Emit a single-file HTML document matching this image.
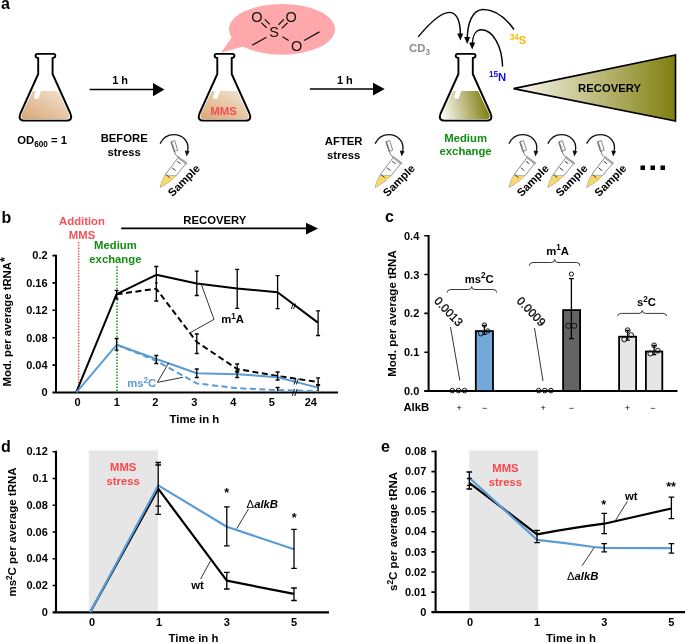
<!DOCTYPE html>
<html><head><meta charset="utf-8">
<style>
html,body{margin:0;padding:0;background:#fff;width:685px;height:643px;overflow:hidden}
svg{display:block;will-change:transform}
svg{font-family:"Liberation Sans",sans-serif;font-weight:bold}
text{font-family:"Liberation Sans",sans-serif}
</style></head>
<body>
<svg width="685" height="643" viewBox="0 0 685 643">
<defs>
  <linearGradient id="tan" x1="0" y1="1" x2="1" y2="0">
    <stop offset="0" stop-color="#d9a674"/>
    <stop offset="1" stop-color="#f4e5d4"/>
  </linearGradient>
  <linearGradient id="olive" x1="0" y1="1" x2="1" y2="0.88">
    <stop offset="0" stop-color="#ffffff"/>
    <stop offset="1" stop-color="#807f0f"/>
  </linearGradient>
  <linearGradient id="oliveTri" x1="0" y1="0" x2="1" y2="0">
    <stop offset="0" stop-color="#fbfaf0"/>
    <stop offset="1" stop-color="#807f0f"/>
  </linearGradient>
  <g id="flaskOutline">
    <path d="M -7.2,21 L -7.2,5 Q -9.9,4.6 -9.9,2.7 Q -9.9,0.9 -8,0.9 L 8,0.9 Q 9.9,0.9 9.9,2.7 Q 9.9,4.6 7.2,5 L 7.2,21 L 25,60.5 Q 27.9,67.5 21,67.6 L -21,67.6 Q -27.9,67.5 -25,60.5 Z" fill="none" stroke="#000" stroke-width="1.9" stroke-linejoin="round"/>
  </g>
  <path id="liquid" d="M -12.6,37.9 L 12.6,37.9 L 23.4,60.8 Q 25.9,66.2 20.2,66.3 L -20.2,66.3 Q -25.9,66.2 -23.4,60.8 Z"/>
  <path id="hl" d="M -9.6,37.4 L -4.2,37.4 L -6.5,44.2 Q -7.2,46.1 -9,46.1 Q -11.1,45.9 -11.5,43.9 Z" fill="#fff"/>
  <g id="tube">
    <path d="M 160.1,143.6 C 163,137.5 167.5,134.6 173.9,134.6 C 182,134.6 188.1,140.5 188,147.9 L 187.6,151.5" fill="none" stroke="#111" stroke-width="1.3"/>
    <path d="M 184.8,150.6 L 186.6,156.6 L 189.6,151.2 Z" fill="#111"/>
    <g transform="translate(174.3,146) rotate(-18)">
      <rect x="-2" y="-5" width="4" height="10" fill="#fff" stroke="#666" stroke-width="0.7"/>
      <path d="M -1.4,-5 V 5" stroke="#555" stroke-width="1.5" stroke-dasharray="0.7,0.5"/>
    </g>
    <path d="M 174.4,151.2 Q 175,155 177.8,156.8" fill="none" stroke="#555" stroke-width="0.8"/>
    <path d="M 177.7,158.2 L 171.1,166.9 L 165.8,174 Q 162.2,179.5 160.2,187.3 Q 166.5,184 171.3,180 L 176.1,175.6 L 185.6,164" fill="#fff" stroke="#444" stroke-width="0.6"/>
    <path d="M 165.3,175.3 L 176.4,175.6 L 171.3,180 Q 166.5,184 160.2,187.3 Q 162.2,179.5 165.3,175.3 Z" fill="#f8d86a"/>
    <path d="M 165.3,175.3 L 176.4,175.6" stroke="#999" stroke-width="0.6"/>
    <path d="M 177.9,157 L 186.9,163.8" stroke="#c4c4c4" stroke-width="2.3"/>
    <path d="M 177.9,157 L 186.9,163.8" stroke="#6a6a6a" stroke-width="2.3" stroke-dasharray="0.5,1"/>
    <path d="M 177.2,161.3 L 180.6,163.7 M 171.9,167.7 L 175.6,170.6 M 166.3,174.8 L 169.7,177.7" stroke="#222" stroke-width="0.9"/>
    <text transform="translate(172.6,197.2) rotate(-45)" font-size="11.2" fill="#000">Sample</text>
  </g>
</defs>

<!-- ============ PANEL A ============ -->
<text x="1" y="8.8" font-size="16" fill="#000">a</text>

<!-- speech bubble -->
<path d="M 221,52.8 L 232.3,36.5 L 243,46.5 Z" fill="#fea8ab"/>
<ellipse cx="282" cy="29.3" rx="53" ry="25.4" fill="#fea8ab"/>
<!-- MMS molecule -->
<g font-size="14.5" fill="#111">
  <text x="256.8" y="21.7" text-anchor="middle" style="font-weight:normal">O</text>
  <text x="291.2" y="21.7" text-anchor="middle" style="font-weight:normal">O</text>
  <text x="274.1" y="37.4" text-anchor="middle" style="font-weight:normal">S</text>
  <text x="296.6" y="50.7" text-anchor="middle" style="font-weight:normal">O</text>
</g>
<g stroke="#111" stroke-width="1.25" fill="none">
  <path d="M 252.2,45.2 L 266.4,37.2"/>
  <path d="M 304.1,40.5 L 319.5,31.9"/>
  <path d="M 282.5,36.8 L 288.7,40.5"/>
  <path d="M 264.8,19.4 L 269.8,24.4 M 261.3,22.6 L 266.6,27.8"/>
  <path d="M 278.5,24.8 L 283.9,19.4 M 281.8,28.4 L 287.6,22.7"/>
</g>

<!-- flask 1 -->
<g transform="translate(45.4,53)">
  <use href="#liquid" fill="url(#tan)"/>
  <use href="#hl"/>
  <use href="#flaskOutline"/>
</g>
<!-- flask 2 -->
<g transform="translate(224.5,53)">
  <use href="#liquid" fill="url(#tan)"/>
  <use href="#hl"/>
  <use href="#flaskOutline"/>
  <text x="-1" y="61.6" text-anchor="middle" font-size="11.3" fill="#f34f55">MMS</text>
</g>
<!-- flask 3 -->
<g transform="translate(465.6,53)">
  <use href="#liquid" fill="url(#olive)"/>
  <use href="#hl"/>
  <use href="#flaskOutline"/>
</g>

<!-- arrows -->
<path d="M 89.7,89.5 L 154,89.5" stroke="#000" stroke-width="1.6"/>
<path d="M 153,83 L 164.4,89.5 L 153,96.3 Z" fill="#000"/>
<text x="120.1" y="83.9" text-anchor="middle" font-size="11">1 h</text>
<path d="M 309.9,89 L 374,89" stroke="#000" stroke-width="1.6"/>
<path d="M 373,82.8 L 384.7,89 L 373,95.5 Z" fill="#000"/>
<text x="344.9" y="83.9" text-anchor="middle" font-size="11">1 h</text>

<text x="42.2" y="144" text-anchor="middle" font-size="11.3">OD<tspan font-size="8.2" dy="2.6">600</tspan><tspan dy="-2.6"> = 1</tspan></text>
<text x="124.2" y="142.2" text-anchor="middle" font-size="11.3">BEFORE</text>
<text x="124.2" y="156" text-anchor="middle" font-size="11.3">stress</text>
<text x="343.7" y="144.8" text-anchor="middle" font-size="11.3">AFTER</text>
<text x="343.7" y="158.5" text-anchor="middle" font-size="11.3">stress</text>
<text x="465.6" y="142" text-anchor="middle" font-size="11.3" fill="#118e11">Medium</text>
<text x="465.6" y="155.3" text-anchor="middle" font-size="11.3" fill="#118e11">exchange</text>

<!-- isotope arrows -->
<g fill="none" stroke="#000" stroke-width="1.45">
  <path d="M 418.2,36.9 C 428,25 440,12.3 449.5,12.4 C 458,12.6 460.4,24 460.3,34"/>
  <path d="M 514,29.5 C 505,17 494,9.4 483,9.5 C 472,9.8 467.5,24 467.3,38"/>
  <path d="M 502.6,66.6 C 502,46 493,30 481.5,29.8 C 475,29.8 472.5,37 472.3,44"/>
</g>
<g fill="#000">
  <path d="M 457.2,33.5 L 460.3,40.5 L 463.2,33.5 Z"/>
  <path d="M 464.2,37 L 467.2,44 L 470.2,37 Z"/>
  <path d="M 469.2,42.5 L 472.2,49.5 L 475.2,42.5 Z"/>
</g>
<text x="419.5" y="52" text-anchor="middle" font-size="11.3" fill="#8c8c8c">CD<tspan font-size="8.2" dy="2.5">3</tspan></text>
<text x="518" y="44.4" text-anchor="middle" font-size="11.3" fill="#fbbc05"><tspan font-size="8.2" dy="-4">34</tspan><tspan dy="4">S</tspan></text>
<text x="497.6" y="80.6" text-anchor="middle" font-size="11.3" fill="#1010ee"><tspan font-size="8.2" dy="-4">15</tspan><tspan dy="4">N</tspan></text>

<!-- recovery triangle -->
<path d="M 513.5,88.6 L 675.5,54.9 L 675.5,121 Z" fill="url(#oliveTri)" stroke="#000" stroke-width="1.6" stroke-linejoin="miter"/>
<text x="609.6" y="91.8" text-anchor="middle" font-size="11.3">RECOVERY</text>

<!-- tubes -->
<use href="#tube" x="0" y="0"/>
<use href="#tube" x="215" y="0"/>
<use href="#tube" x="348.8" y="0"/>
<use href="#tube" x="387.7" y="0"/>
<use href="#tube" x="426.5" y="0"/>
<g fill="#000">
  <rect x="640.5" y="165.5" width="4.5" height="4.5"/>
  <rect x="650.5" y="165.5" width="4.5" height="4.5"/>
  <rect x="660.5" y="165.5" width="4.5" height="4.5"/>
</g>

<!-- ============ PANEL B ============ -->
<text x="1.5" y="222.5" font-size="16">b</text>
<text x="82" y="225.2" text-anchor="middle" font-size="11.3" fill="#f5535a">Addition</text>
<text x="82" y="238.8" text-anchor="middle" font-size="11.3" fill="#f5535a">MMS</text>
<text x="115.4" y="249.4" text-anchor="middle" font-size="11.3" fill="#118e11">Medium</text>
<text x="115.4" y="262.8" text-anchor="middle" font-size="11.3" fill="#118e11">exchange</text>
<path d="M 121.2,228.4 L 307,228.4" stroke="#000" stroke-width="1.6"/>
<path d="M 306,222.7 L 318.1,228.4 L 306,234.5 Z" fill="#000"/>
<text x="214.8" y="223.6" text-anchor="middle" font-size="11.3">RECOVERY</text>
<!-- dotted lines -->
<path d="M 78.6,242 L 78.6,392" stroke="#f63c3c" stroke-width="1.5" stroke-dasharray="1.3,1.5"/>
<path d="M 117,266.5 L 117,392" stroke="#129612" stroke-width="1.5" stroke-dasharray="1.5,1.5"/>
<!-- axes -->
<path d="M 56,254.8 L 56,392.5 M 52.4,392.5 L 338,392.5" stroke="#000" stroke-width="2" fill="none"/>
<g stroke="#000" stroke-width="1.6">
  <path d="M 52.4,255.6 L 56,255.6 M 52.4,282.9 L 56,282.9 M 52.4,310.3 L 56,310.3 M 52.4,337.7 L 56,337.7 M 52.4,365.1 L 56,365.1"/>
</g>
<g font-size="11" text-anchor="end">
  <text x="47.6" y="259.4">0.2</text>
  <text x="47.6" y="286.7">0.16</text>
  <text x="47.6" y="314.1">0.12</text>
  <text x="47.6" y="341.5">0.08</text>
  <text x="47.6" y="368.9">0.04</text>
  <text x="47.6" y="396.3">0</text>
</g>
<g font-size="11" text-anchor="middle">
  <text x="77.6" y="406">0</text>
  <text x="116.8" y="406">1</text>
  <text x="155.4" y="406">2</text>
  <text x="194.2" y="406">3</text>
  <text x="233.2" y="406">4</text>
  <text x="271.8" y="406">5</text>
  <text x="310.8" y="406">24</text>
</g>
<text x="194.4" y="422.6" text-anchor="middle" font-size="11.4">Time in h</text>
<text transform="translate(11,386.4) rotate(-90)" font-size="11.3">Mod. per average tRNA<tspan font-size="12.5" dy="-2.5">*</tspan></text>
<!-- data -->
<g fill="none" stroke-linejoin="round">
  <path d="M 76.2,392.3 L 116.6,294.2 L 156.3,274.8 L 196.8,283.4 L 237.2,288.5 L 277.6,292.2 L 317.9,322.6" stroke="#000" stroke-width="2"/>
  <path d="M 116.6,294.2 L 156.3,288.8 L 196.8,342 L 237.2,369 L 277.6,376 L 317.9,382" stroke="#000" stroke-width="2" stroke-dasharray="6,3.5"/>
  <path d="M 76.4,392.3 L 116.6,344.8 L 156.3,359 L 196.8,373.3 L 237.2,374.2 L 277.6,377.2 L 317.9,387.6" stroke="#5b9bd5" stroke-width="2"/>
  <path d="M 116.6,344.8 L 156.3,360.8 L 196.8,383.4 L 237.2,388.2 L 277.6,390.1 L 317.9,391" stroke="#5b9bd5" stroke-width="2" stroke-dasharray="6,3.5"/>
</g>
<g stroke="#000" stroke-width="1.3" fill="none">
  <!-- error bars -->
  <path d="M 116.6,290.3 V 298.9 M 114.6,290.3 H 118.6 M 114.6,298.9 H 118.6"/>
  <path d="M 156.3,266.5 V 301 M 154.3,266.5 H 158.3 M 154.3,301 H 158.3 M 155,283 H 157.6"/>
  <path d="M 196.8,271.1 V 295.5 M 194.8,271.1 H 198.8 M 194.8,295.5 H 198.8"/>
  <path d="M 237.2,269.4 V 308.4 M 235.2,269.4 H 239.2 M 235.2,308.4 H 239.2"/>
  <path d="M 277.6,275.6 V 308.6 M 275.6,275.6 H 279.6 M 275.6,308.6 H 279.6"/>
  <path d="M 318.1,310.9 V 335.5 M 316.1,310.9 H 320.1 M 316.1,335.5 H 320.1"/>
  <path d="M 196.8,334 V 353.5 M 194.8,334 H 198.8 M 194.8,353.5 H 198.8"/>
  <path d="M 237.2,364 V 372 M 235.2,364 H 239.2 M 235.2,372 H 239.2"/>
  <path d="M 277.6,372 V 380 M 275.6,372 H 279.6 M 275.6,380 H 279.6"/>
  <path d="M 318.1,377.8 V 385 M 316.1,377.8 H 320.1 M 316.1,385 H 320.1"/>
  <path d="M 116.6,338.5 V 350.2 M 114.6,338.5 H 118.6 M 114.6,350.2 H 118.6"/>
  <path d="M 156.3,355.5 V 363.5 M 154.3,355.5 H 158.3 M 154.3,363.5 H 158.3"/>
  <path d="M 196.8,369 V 377.5 M 194.8,369 H 198.8 M 194.8,377.5 H 198.8"/>
  <path d="M 237.2,371 V 377.5 M 235.2,371 H 239.2 M 235.2,377.5 H 239.2"/>
  <path d="M 277.6,387.5 V 391 M 275.6,387.5 H 279.6"/>
  <path d="M 318.1,385 V 391 M 316.1,385 H 320.1"/>
</g>
<!-- break marks -->
<g stroke="#000" stroke-width="0.9">
  <path d="M 291.3,309 L 293.3,303.5 M 293.6,309 L 295.6,303.5"/>
  <path d="M 292.3,396 L 294.6,389 M 294.8,396 L 297.1,389"/>
  <path d="M 294,384.5 L 296,378.5 M 296.4,384.5 L 298.4,378.5"/>
</g>
<!-- annotations -->
<g stroke="#000" stroke-width="0.8" fill="none">
  <path d="M 201,283.5 L 214,319.4 L 189.5,333.1"/>
  <path d="M 168.6,363 L 157.4,382.4 L 183,377.3"/>
</g>
<text x="221.2" y="323.4" font-size="11.3">m<tspan font-size="8.2" dy="-4">1</tspan><tspan dy="4">A</tspan></text>
<text x="127.2" y="386.8" font-size="11.3" fill="#5b9bd5">ms<tspan font-size="8.2" dy="-4">2</tspan><tspan dy="4">C</tspan></text>

<!-- ============ PANEL C ============ -->
<text x="385" y="222.3" font-size="16">c</text>
<path d="M 428.6,235 L 428.6,391 M 424.2,390.9 L 677.5,390.9" stroke="#000" stroke-width="2" fill="none"/>
<g stroke="#000" stroke-width="1.6">
  <path d="M 424.3,235.7 L 428.6,235.7 M 424.3,274.5 L 428.6,274.5 M 424.3,313.4 L 428.6,313.4 M 424.3,352.2 L 428.6,352.2"/>
</g>
<g font-size="11" text-anchor="end">
  <text x="419.3" y="239.7">0.4</text>
  <text x="419.3" y="278.5">0.3</text>
  <text x="419.3" y="317.4">0.2</text>
  <text x="419.3" y="356.2">0.1</text>
  <text x="419.3" y="395.0">0.0</text>
</g>
<text transform="translate(395.6,376.8) rotate(-90)" font-size="11.5">Mod. per average tRNA</text>
<!-- bars -->
<g stroke="#000" stroke-width="1.8">
  <rect x="475.8" y="331.1" width="17.2" height="59.9" fill="#72a8da"/>
  <rect x="563.1" y="310.1" width="17" height="80.9" fill="#646464"/>
  <rect x="619.1" y="336.7" width="17" height="54.3" fill="#e6e6e6"/>
  <rect x="645.9" y="351.5" width="16.4" height="39.5" fill="#e6e6e6"/>
</g>
<!-- errors and points -->
<g stroke="#000" stroke-width="1.3" fill="none">
  <path d="M 484.4,325.3 V 334.4 M 482.2,334.4 H 486.6 M 482.5,325.3 H 486.3"/>
  <path d="M 571.4,278.6 V 338.6 M 569,278.6 H 573.8 M 569,338.6 H 573.8"/>
  <path d="M 627.7,330.4 V 340.2 M 625.6,340.2 H 629.8 M 625.8,330.4 H 629.6"/>
  <path d="M 654.1,345.5 V 354.5 M 652,354.5 H 656.2 M 652.2,345.5 H 656"/>
</g>
<g stroke="#111" stroke-width="1" fill="none">
  <circle cx="484.4" cy="325.1" r="2.2"/><circle cx="480.8" cy="333.6" r="2.4"/><circle cx="487.8" cy="331" r="2.2"/>
  <circle cx="571.4" cy="274.1" r="2.1"/><circle cx="568.3" cy="325.8" r="2.6"/><circle cx="574.2" cy="325.8" r="2.6"/>
  <circle cx="627.7" cy="330.2" r="2.4"/><circle cx="624.3" cy="339.4" r="2.5"/><circle cx="631.2" cy="335.1" r="2.4"/>
  <circle cx="654.1" cy="345.3" r="2.4"/><circle cx="650.4" cy="353.5" r="2.5"/><circle cx="657.8" cy="350.7" r="2.4"/>
  <circle cx="452.3" cy="390.6" r="2.3"/><circle cx="458.4" cy="390.6" r="2.3"/><circle cx="464.5" cy="390.6" r="2.3"/>
  <circle cx="538.7" cy="390.6" r="2.3"/><circle cx="544.8" cy="390.6" r="2.3"/><circle cx="550.9" cy="390.6" r="2.3"/>
</g>
<g stroke="#000" stroke-width="0.8" fill="none">
  <path d="M 450.5,327 L 459.8,380.4"/>
  <path d="M 534.5,328 L 543,381"/>
  <!-- braces -->
  <path stroke="#222" stroke-width="0.9" d="M 447,292.6 Q 447.4,289.5 451,289.5 L 468.5,289.5 Q 471.7,289.5 471.7,286.6 Q 471.7,289.5 475,289.5 L 493,289.5 Q 496.7,289.5 496.7,292.6"/>
  <path stroke="#222" stroke-width="0.9" d="M 529.2,265.8 Q 529.6,262.5 533,262.5 L 551.5,262.5 Q 554.7,262.5 554.7,259.3 Q 554.7,262.5 558,262.5 L 576.5,262.5 Q 580,262.5 580,265.8"/>
  <path stroke="#222" stroke-width="0.9" d="M 617.4,316.2 Q 617.8,313.4 621.5,313.4 L 639,313.4 Q 642.3,313.4 642.3,310.4 Q 642.3,313.4 645.5,313.4 L 663,313.4 Q 666.6,313.4 666.6,316.2"/>
</g>
<text x="479.2" y="282.5" text-anchor="middle" font-size="11.3">ms<tspan font-size="8.2" dy="-4.5">2</tspan><tspan dy="4.5">C</tspan></text>
<text x="557.6" y="254.6" text-anchor="middle" font-size="11.3">m<tspan font-size="8.2" dy="-4.5">1</tspan><tspan dy="4.5">A</tspan></text>
<text x="646.4" y="306.3" text-anchor="middle" font-size="11.3">s<tspan font-size="8.2" dy="-4.5">2</tspan><tspan dy="4.5">C</tspan></text>
<text transform="translate(433.4,301.6) rotate(46)" font-size="11.6" style="font-weight:normal" stroke="#000" stroke-width="0.3">0.0013</text>
<text transform="translate(516.1,301.6) rotate(46)" font-size="11.6" style="font-weight:normal" stroke="#000" stroke-width="0.3">0.0009</text>
<text x="403.4" y="411.2" font-size="11.3">AlkB</text>
<g font-size="9" text-anchor="middle" style="font-weight:normal">
  <text x="459.2" y="411">+</text><text x="484.7" y="411">−</text>
  <text x="543.2" y="411">+</text><text x="571.4" y="411">−</text>
  <text x="627.4" y="411">+</text><text x="652.9" y="411">−</text>
</g>

<!-- ============ PANEL D ============ -->
<text x="1" y="451.5" font-size="16">d</text>
<rect x="88.8" y="450.5" width="69.2" height="162" fill="#e6e6e6"/>
<text x="123.2" y="471" text-anchor="middle" font-size="11.3" fill="#f9484d">MMS</text>
<text x="123.2" y="484.6" text-anchor="middle" font-size="11.3" fill="#f9484d">stress</text>
<path d="M 56,450.7 L 56,613 M 52.6,612.4 L 329,612.4" stroke="#000" stroke-width="2.1" fill="none"/>
<g stroke="#000" stroke-width="1.6">
  <path d="M 52.6,451.7 H 56 M 52.6,478.5 H 56 M 52.6,505.2 H 56 M 52.6,532 H 56 M 52.6,558.8 H 56 M 52.6,585.5 H 56"/>
</g>
<g font-size="11" text-anchor="end">
  <text x="47.8" y="455.2">0.12</text>
  <text x="47.8" y="482.1">0.1</text>
  <text x="47.8" y="508.8">0.08</text>
  <text x="47.8" y="535.6">0.06</text>
  <text x="47.8" y="562.4">0.04</text>
  <text x="47.8" y="589.1">0.02</text>
  <text x="47.8" y="615.9">0</text>
</g>
<g font-size="11" text-anchor="middle">
  <text x="92" y="625.6">0</text>
  <text x="159" y="625.6">1</text>
  <text x="226.8" y="625.6">3</text>
  <text x="294" y="625.6">5</text>
</g>
<text x="193.5" y="641.8" text-anchor="middle" font-size="11.4">Time in h</text>
<text transform="translate(15.7,596.6) rotate(-90)" font-size="11.5">ms<tspan font-size="8.2" dy="-4">2</tspan><tspan dy="4">C per average tRNA</tspan></text>
<g fill="none" stroke-linejoin="round" stroke-width="2.2">
  <path d="M 90.2,612.2 L 158.2,488.7 L 226.8,580.7 L 294,593.9" stroke="#000"/>
  <path d="M 90.2,612.2 L 158.2,485.4 L 226.8,526.7 L 294,549.2" stroke="#5b9bd5"/>
</g>
<g stroke="#000" stroke-width="1.3" fill="none">
  <path d="M 158.2,462.5 V 514.4 M 155.4,462.5 H 161.0 M 155.4,514.4 H 161.0 M 155.4,465 H 161.0 M 155.4,506.2 H 161.0"/>
  <path d="M 226.8,506.8 V 545.9 M 224.0,506.8 H 229.6 M 224.0,545.9 H 229.6"/>
  <path d="M 226.8,572.4 V 589 M 224.0,572.4 H 229.6 M 224.0,589 H 229.6"/>
  <path d="M 294,529.3 V 568.4 M 291.2,529.3 H 296.8 M 291.2,568.4 H 296.8"/>
  <path d="M 294,588 V 600.5 M 291.2,588 H 296.8 M 291.2,600.5 H 296.8"/>
</g>
<g stroke="#000" stroke-width="0.8" fill="none">
  <path d="M 248.6,508.8 L 236.7,528.7"/>
  <path d="M 200.6,579 L 210.5,560.8"/>
</g>
<text x="226.8" y="497" text-anchor="middle" font-size="12.5">*</text>
<text x="294.2" y="521.5" text-anchor="middle" font-size="12.5">*</text>
<text x="246.6" y="507.5" font-size="11.3"><tspan style="font-weight:normal">Δ</tspan><tspan font-style="italic">alkB</tspan></text>
<text x="191.3" y="588.6" font-size="11.3">wt</text>

<!-- ============ PANEL E ============ -->
<text x="381" y="451.5" font-size="16">e</text>
<rect x="469.3" y="450.5" width="68.7" height="162" fill="#e6e6e6"/>
<text x="505.4" y="472" text-anchor="middle" font-size="11.3" fill="#f9484d">MMS</text>
<text x="505.4" y="485.6" text-anchor="middle" font-size="11.3" fill="#f9484d">stress</text>
<path d="M 435.6,450.5 L 435.6,612.8 M 431.4,612.1 L 685,612.1" stroke="#000" stroke-width="2.1" fill="none"/>
<g stroke="#000" stroke-width="1.6">
  <path d="M 431.4,451.5 H 435.6 M 431.4,471.6 H 435.6 M 431.4,491.7 H 435.6 M 431.4,511.7 H 435.6 M 431.4,531.8 H 435.6 M 431.4,551.9 H 435.6 M 431.4,572 H 435.6 M 431.4,592.1 H 435.6"/>
</g>
<g font-size="11" text-anchor="end">
  <text x="426.3" y="455.1">0.08</text>
  <text x="426.3" y="475.2">0.07</text>
  <text x="426.3" y="495.3">0.06</text>
  <text x="426.3" y="515.3">0.05</text>
  <text x="426.3" y="535.4">0.04</text>
  <text x="426.3" y="555.5">0.03</text>
  <text x="426.3" y="575.6">0.02</text>
  <text x="426.3" y="595.7">0.01</text>
  <text x="426.3" y="615.7">0</text>
</g>
<g font-size="11" text-anchor="middle">
  <text x="470" y="625.6">0</text>
  <text x="537" y="625.6">1</text>
  <text x="604.2" y="625.6">3</text>
  <text x="671.4" y="625.6">5</text>
</g>
<text x="571" y="641.8" text-anchor="middle" font-size="11.4">Time in h</text>
<text transform="translate(396.6,590.9) rotate(-90)" font-size="11.5">s<tspan font-size="8.2" dy="-4">2</tspan><tspan dy="4">C per average tRNA</tspan></text>
<g fill="none" stroke-linejoin="round" stroke-width="2.2">
  <path d="M 469.3,482.8 L 537,534.3 Q 575,527.5 604.2,523.7 L 671.4,508.5" stroke="#000"/>
  <path d="M 469.3,477.8 L 537,539.8 Q 566,542.8 594,547 L 604.2,547.9 L 671.4,548.2" stroke="#5b9bd5"/>
</g>
<g stroke="#000" stroke-width="1.3" fill="none">
  <path d="M 469.3,472 V 489 M 466.5,472 H 472.1 M 466.5,489 H 472.1 M 467,478.5 H 471.6 M 467,485.4 H 471.6"/>
  <path d="M 537,530.3 V 542.6 M 534.2,530.3 H 539.8 M 534.2,542.6 H 539.8"/>
  <path d="M 604.2,513.4 V 533.6 M 601.4,513.4 H 607.0 M 601.4,533.6 H 607.0"/>
  <path d="M 604.2,543.6 V 551.9 M 601.4,543.6 H 607.0 M 601.4,551.9 H 607.0"/>
  <path d="M 671.4,497.2 V 518.7 M 668.6,497.2 H 674.2 M 668.6,518.7 H 674.2"/>
  <path d="M 671.4,543.6 V 553.2 M 668.6,543.6 H 674.2 M 668.6,553.2 H 674.2"/>
</g>
<g stroke="#000" stroke-width="0.8" fill="none">
  <path d="M 627.4,501.2 L 615.8,520"/>
  <path d="M 582,565.8 L 594.3,547.5"/>
</g>
<text x="603.6" y="509" text-anchor="middle" font-size="12.5">*</text>
<text x="671" y="491.3" text-anchor="middle" font-size="12.5">**</text>
<text x="625" y="500" font-size="11.3">wt</text>
<text x="567" y="579.8" font-size="11.3"><tspan style="font-weight:normal">Δ</tspan><tspan font-style="italic">alkB</tspan></text>

</svg>
</body></html>
